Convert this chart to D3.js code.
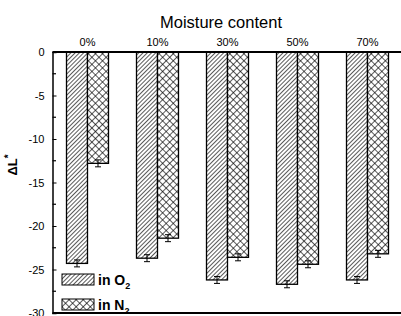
<!DOCTYPE html>
<html>
<head>
<meta charset="utf-8">
<script src="https://cdn.jsdelivr.net/npm/d3@7"></script>
<style>
  body { margin: 0; background: #fff; }
  text { font-family: "Liberation Sans", Arial, sans-serif; }
</style>
</head>
<body>
<div id="chart"></div>
<script>
// data
var categories = ["0%", "10%", "30%", "50%", "70%"];
var series = ["O2", "N2"];
var o2Values = [-24.3, -23.7, -26.2, -26.7, -26.2];
var n2Values = [-12.8, -21.4, -23.6, -24.4, -23.2];
var o2Errors = [0.4, 0.4, 0.4, 0.4, 0.4];
var n2Errors = [0.4, 0.4, 0.4, 0.4, 0.4];
var yTicks = [0, -5, -10, -15, -20, -25, -30];

var width = 401, height = 316;
var svg = d3.select("#chart").append("svg")
  .attr("width", width)
  .attr("height", height);

// patterns
var defs = svg.append("defs");
var p1 = defs.append("pattern")
  .attr("id", "hatch")
  .attr("patternUnits", "userSpaceOnUse")
  .attr("width", 3).attr("height", 3)
  .attr("patternTransform", "rotate(45)");
p1.append("rect").attr("width", 3).attr("height", 3).attr("fill", "#fff");
p1.append("line").attr("x1", 0).attr("y1", 0).attr("x2", 0).attr("y2", 3)
  .attr("stroke", "#000").attr("stroke-width", 1.3);

var p2 = defs.append("pattern")
  .attr("id", "cross")
  .attr("patternUnits", "userSpaceOnUse")
  .attr("width", 5).attr("height", 5)
  .attr("patternTransform", "rotate(45)");
p2.append("rect").attr("width", 5).attr("height", 5).attr("fill", "#fff");
p2.append("line").attr("x1", 0).attr("y1", 0).attr("x2", 0).attr("y2", 5)
  .attr("stroke", "#000").attr("stroke-width", 1.3);
p2.append("line").attr("x1", 0).attr("y1", 0).attr("x2", 5).attr("y2", 0)
  .attr("stroke", "#000").attr("stroke-width", 1.3);

var fills = { O2: "url(#hatch)", N2: "url(#cross)" };

// scales
var y = d3.scaleLinear().domain([-30, 0]).range([313, 52]);
var x = d3.scaleBand()
  .domain(categories)
  .range([52.5, 402.5])
  .paddingInner(0.4)
  .paddingOuter(0.2);
var xs = d3.scaleBand().domain(series).range([0, x.bandwidth()]);

var rows = categories.map(function (c, i) {
  return [
    { cat: c, s: "O2", v: o2Values[i], e: o2Errors[i] },
    { cat: c, s: "N2", v: n2Values[i], e: n2Errors[i] }
  ];
});
var flat = [].concat.apply([], rows);

// bars
svg.selectAll("rect.bar")
  .data(flat)
  .enter()
  .append("rect")
  .attr("class", "bar")
  .attr("x", function (d) { return x(d.cat) + xs(d.s); })
  .attr("y", y(0))
  .attr("width", xs.bandwidth())
  .attr("height", function (d) { return y(d.v) - y(0); })
  .attr("fill", function (d) { return fills[d.s]; })
  .attr("stroke", "#000")
  .attr("stroke-width", 1.3);

// error bars
var eb = svg.selectAll("g.err")
  .data(flat)
  .enter()
  .append("g")
  .attr("class", "err")
  .attr("stroke", "#000")
  .attr("stroke-width", 1);
eb.append("line")
  .attr("x1", function (d) { return x(d.cat) + xs(d.s) + xs.bandwidth() / 2; })
  .attr("x2", function (d) { return x(d.cat) + xs(d.s) + xs.bandwidth() / 2; })
  .attr("y1", function (d) { return y(d.v - d.e); })
  .attr("y2", function (d) { return y(d.v + d.e); });
eb.selectAll("line.cap")
  .data(function (d) { return [d.v - d.e, d.v + d.e].map(function (v) { return { d: d, v: v }; }); })
  .enter()
  .append("line")
  .attr("class", "cap")
  .attr("x1", function (o) { return x(o.d.cat) + xs(o.d.s) + xs.bandwidth() / 2 - 3; })
  .attr("x2", function (o) { return x(o.d.cat) + xs(o.d.s) + xs.bandwidth() / 2 + 3; })
  .attr("y1", function (o) { return y(o.v); })
  .attr("y2", function (o) { return y(o.v); });

// left axis, ticks pointing inward
var yAxis = svg.append("g")
  .attr("transform", "translate(52.5,0)")
  .call(d3.axisLeft(y).tickValues(yTicks).tickSize(-4).tickPadding(8));
yAxis.select(".domain").attr("stroke-width", 1.5);
yAxis.selectAll(".tick text").attr("font-size", 11).attr("fill", "#000")
  .text(function (d) { return d === 0 ? "0" : "-" + Math.abs(d); });
// minor ticks
var minor = d3.range(-27.5, 0, 5);
svg.append("g").selectAll("line")
  .data(minor)
  .enter()
  .append("line")
  .attr("x1", 52.5).attr("x2", 56)
  .attr("y1", function (d) { return y(d); })
  .attr("y2", function (d) { return y(d); })
  .attr("stroke", "#000").attr("stroke-width", 1.2);

// top axis with category labels
var xAxis = svg.append("g")
  .attr("transform", "translate(0," + y(0) + ")")
  .call(d3.axisTop(x).tickSize(0).tickPadding(6));
xAxis.select(".domain").attr("stroke-width", 2.2).attr("d", "M52.5,0H401");
xAxis.selectAll(".tick text").attr("font-size", 11).attr("fill", "#000");

// bottom frame line
svg.append("line")
  .attr("x1", 52.5).attr("x2", 401)
  .attr("y1", y(-30)).attr("y2", y(-30))
  .attr("stroke", "#000").attr("stroke-width", 2);

// title
svg.append("text")
  .attr("x", 221).attr("y", 28)
  .attr("text-anchor", "middle")
  .attr("font-size", 16.5)
  .text("Moisture content");

// y label
var yl = svg.append("text")
  .attr("transform", "translate(17,165) rotate(-90)")
  .attr("text-anchor", "middle")
  .attr("font-size", 13)
  .attr("font-weight", "bold");
yl.append("tspan").text("\u0394L");
yl.append("tspan").attr("dy", -5).attr("font-size", 10).text("*");

// legend
var legend = svg.selectAll("g.leg")
  .data(series)
  .enter()
  .append("g")
  .attr("class", "leg")
  .attr("transform", function (d, i) { return "translate(62," + (274 + i * 25) + ")"; });
legend.append("rect")
  .attr("width", 32).attr("height", 11)
  .attr("fill", function (d) { return fills[d]; })
  .attr("stroke", "#000").attr("stroke-width", 1);
var lt = legend.append("text")
  .attr("x", 36).attr("y", 11)
  .attr("font-size", 14)
  .attr("font-weight", "bold");
lt.append("tspan").text(function (d) { return "in " + d.charAt(0); });
lt.append("tspan").attr("dy", 4).attr("font-size", 9).text(function (d) { return d.charAt(1); });
</script>
</body>
</html>
